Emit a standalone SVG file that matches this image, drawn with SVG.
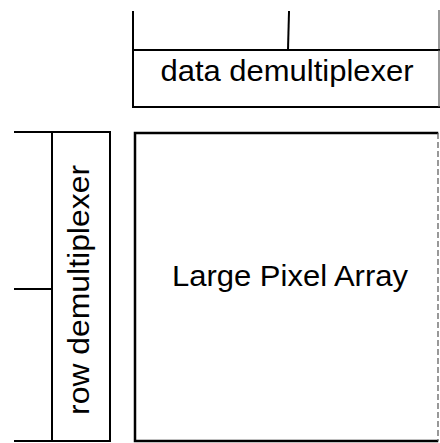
<svg xmlns="http://www.w3.org/2000/svg" width="440" height="443" viewBox="0 0 440 443">
<style>
.ln{stroke:#000;stroke-width:2;fill:none;stroke-linecap:square}
.thin{stroke:#555;stroke-width:1.2;fill:none}
.lbl{font-family:"Liberation Sans",Arial,sans-serif;font-size:30px;fill:#000;text-anchor:middle}
</style>
<rect width="440" height="443" fill="#fff"/>
<g id="connectors">
<line class="ln" x1="133" y1="12" x2="133" y2="50"/>
<line class="ln" x1="289" y1="12" x2="288" y2="50"/>
<line class="thin" x1="439" y1="10" x2="439" y2="50"/>
<line class="ln" x1="15" y1="132" x2="52" y2="132"/>
<line class="ln" x1="15" y1="289" x2="52" y2="289"/>
<line class="ln" x1="15" y1="441" x2="52" y2="441"/>
</g>
<g id="data-demux">
<path class="ln" d="M439 50 H133 V107 H439"/>
<line class="thin" x1="439" y1="50" x2="439" y2="107"/>
<text class="lbl" x="287" y="81" textLength="253" lengthAdjust="spacingAndGlyphs">data demultiplexer</text>
</g>
<g id="row-demux">
<path class="ln" d="M52 132 H110 V441 H52 Z"/>
<text class="lbl" transform="translate(89,290) rotate(-90)" x="0" y="0" textLength="250" lengthAdjust="spacingAndGlyphs">row demultiplexer</text>
</g>
<g id="pixel-array">
<path class="ln" d="M437 133 H135 V441 H437" style="stroke-width:2.5"/>
<line class="thin" x1="438" y1="133" x2="438" y2="441" stroke-dasharray="6 3"/>
<text class="lbl" x="290" y="286" textLength="236" lengthAdjust="spacingAndGlyphs">Large Pixel Array</text>
</g>
</svg>
